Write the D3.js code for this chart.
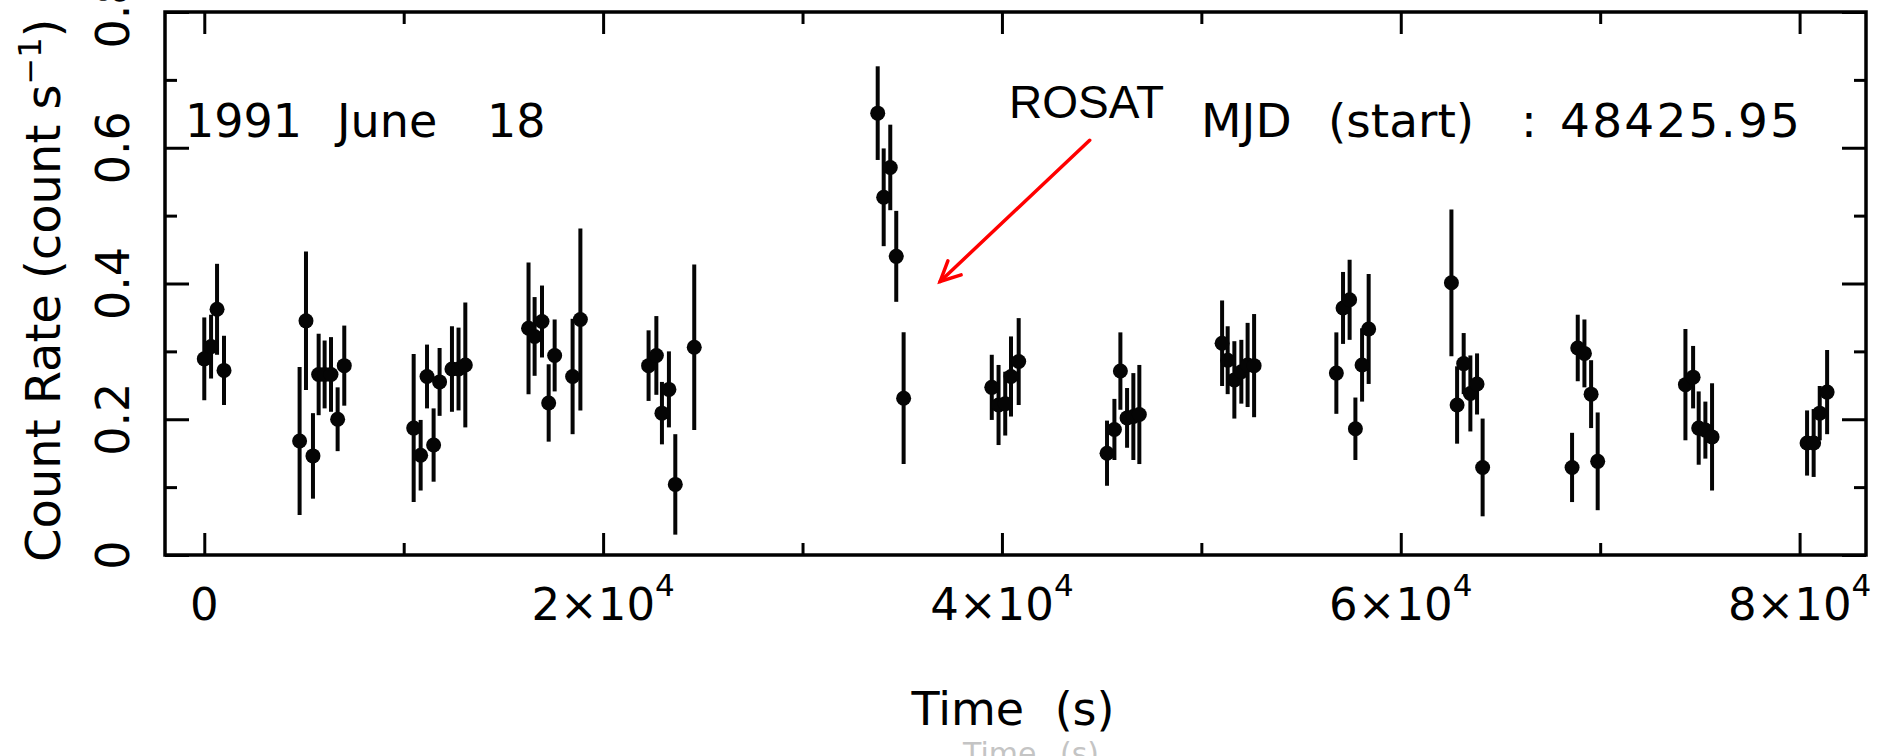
<!DOCTYPE html>
<html>
<head>
<meta charset="utf-8">
<script src="https://cdn.jsdelivr.net/npm/d3@7"></script>
<style>
  body { margin: 0; background: #fff; }
  svg { display: block; }
  .pg { font-family: "DejaVu Sans", sans-serif; fill: #000; }
</style>
</head>
<body>
<svg id="chart"></svg>
<script>
// light curve values (time in s, rate in count/s, 1-sigma error)
const times = [
  0, 340, 640, 990,
  4780, 5100, 5450, 5735, 6035, 6354, 6687, 7020,
  10500, 10850, 11170, 11500, 11800, 12420, 12750, 13090,
  16260, 16565, 16935, 17270, 17570, 18470, 18860,
  22280, 22670, 22950, 23300, 23620, 24570,
  33770, 34070, 34400, 34700, 35070,
  39490, 39830, 40165, 40455, 40840,
  45270, 45640, 45940, 46275, 46590, 46890,
  51040, 51320, 51655, 52005, 52320, 52645,
  56770, 57105, 57435, 57725, 58060, 58390,
  62540, 62825, 63155, 63490, 63825, 64105,
  68590, 68875, 69210, 69545, 69875,
  74275, 74660, 74940, 75275, 75610,
  80375, 80705, 81010, 81380
];
const rates = [
  0.289, 0.307, 0.362, 0.272,
  0.168, 0.345, 0.146, 0.266, 0.266, 0.266, 0.200, 0.279,
  0.187, 0.147, 0.263, 0.162, 0.255, 0.274, 0.274, 0.280,
  0.334, 0.322, 0.344, 0.224, 0.294, 0.263, 0.347,
  0.279, 0.294, 0.209, 0.244, 0.104, 0.306,
  0.651, 0.527, 0.571, 0.440, 0.231,
  0.247, 0.221, 0.223, 0.263, 0.285,
  0.150, 0.185, 0.271, 0.202, 0.204, 0.207,
  0.312, 0.287, 0.258, 0.270, 0.280, 0.279,
  0.268, 0.364, 0.376, 0.186, 0.280, 0.333,
  0.401, 0.221, 0.282, 0.238, 0.252, 0.129,
  0.129, 0.305, 0.297, 0.237, 0.138,
  0.251, 0.262, 0.187, 0.184, 0.174,
  0.165, 0.165, 0.209, 0.240
];
const errors = [
  0.061, 0.047, 0.067, 0.051,
  0.109, 0.102, 0.063, 0.060, 0.050, 0.055, 0.047, 0.059,
  0.109, 0.052, 0.047, 0.054, 0.050, 0.063, 0.061, 0.092,
  0.097, 0.058, 0.053, 0.057, 0.053, 0.085, 0.134,
  0.052, 0.058, 0.046, 0.056, 0.074, 0.122,
  0.069, 0.072, 0.063, 0.067, 0.097,
  0.048, 0.059, 0.047, 0.059, 0.064,
  0.048, 0.045, 0.057, 0.044, 0.064, 0.073,
  0.063, 0.050, 0.057, 0.047, 0.062, 0.076,
  0.060, 0.053, 0.059, 0.046, 0.054, 0.081,
  0.108, 0.057, 0.045, 0.056, 0.045, 0.072,
  0.051, 0.049, 0.050, 0.050, 0.072,
  0.082, 0.046, 0.054, 0.042, 0.079,
  0.048, 0.050, 0.040, 0.062
];

// axis ticks
const xMajor = [0, 20000, 40000, 60000, 80000];
const xMinor = [10000, 30000, 50000, 70000];
const xTickBase = ["0", "2×10", "4×10", "6×10", "8×10"];
const xTickExp = ["", "4", "4", "4", "4"];
const yMajor = [0, 0.2, 0.4, 0.6, 0.8];
const yMinor = [0.1, 0.3, 0.5, 0.7];
const yTickLabels = ["0", "0.2", "0.4", "0.6", "0.8"];

// annotation arrow, in data coordinates [time, rate]
const arrowFrom = [44400, 0.611];
const arrowTo = [36900, 0.403];

const containerWidth = 1887;
const containerHeight = 756;
const margin = { top: 12, right: 21, bottom: 201, left: 165 };
const width = containerWidth - margin.left - margin.right;
const height = containerHeight - margin.top - margin.bottom;

const svg = d3.select("#chart")
  .attr("width", containerWidth)
  .attr("height", containerHeight);

const chart = svg.append("g")
  .attr("transform", `translate(${margin.left},${margin.top})`);

const x = d3.scaleLinear().domain([-1970, 83330]).range([0, width]);
const y = d3.scaleLinear().domain([0, 0.8]).range([height, 0]);

// ticks point inward on all four sides, like pgplot
function styleTicks(g) {
  g.select(".domain").remove();
  g.selectAll(".tick line").attr("stroke", "#000").attr("stroke-width", 3);
}
const noLabel = () => "";

chart.append("g").attr("transform", `translate(0,${height})`)
  .call(d3.axisBottom(x).tickValues(xMajor).tickSize(-22).tickFormat(noLabel)).call(styleTicks);
chart.append("g").attr("transform", `translate(0,${height})`)
  .call(d3.axisBottom(x).tickValues(xMinor).tickSize(-12).tickFormat(noLabel)).call(styleTicks);
chart.append("g")
  .call(d3.axisTop(x).tickValues(xMajor).tickSize(-22).tickFormat(noLabel)).call(styleTicks);
chart.append("g")
  .call(d3.axisTop(x).tickValues(xMinor).tickSize(-12).tickFormat(noLabel)).call(styleTicks);
chart.append("g")
  .call(d3.axisLeft(y).tickValues(yMajor).tickSize(-24).tickFormat(noLabel)).call(styleTicks);
chart.append("g")
  .call(d3.axisLeft(y).tickValues(yMinor).tickSize(-12).tickFormat(noLabel)).call(styleTicks);
chart.append("g").attr("transform", `translate(${width},0)`)
  .call(d3.axisRight(y).tickValues(yMajor).tickSize(-24).tickFormat(noLabel)).call(styleTicks);
chart.append("g").attr("transform", `translate(${width},0)`)
  .call(d3.axisRight(y).tickValues(yMinor).tickSize(-12).tickFormat(noLabel)).call(styleTicks);

// frame
chart.append("rect")
  .attr("width", width)
  .attr("height", height)
  .attr("fill", "none")
  .attr("stroke", "#000")
  .attr("stroke-width", 3.5);

// x tick labels with superscript exponent
const xLabels = chart.append("g").attr("class", "pg")
  .selectAll("text")
  .data(xMajor)
  .join("text")
  .attr("x", d => x(d))
  .attr("y", height + 65)
  .attr("text-anchor", "middle")
  .attr("font-size", 45);
xLabels.append("tspan").text((d, i) => xTickBase[i]);
xLabels.filter((d, i) => xTickExp[i] !== "")
  .append("tspan")
  .attr("dy", -24)
  .attr("font-size", 31)
  .text((d, i) => xTickExp[xMajor.indexOf(d)]);

// y tick labels, rotated
chart.append("g").attr("class", "pg")
  .selectAll("text")
  .data(yMajor)
  .join("text")
  .attr("transform", d => `translate(-36,${y(d)}) rotate(-90)`)
  .attr("text-anchor", "middle")
  .attr("font-size", 46)
  .text((d, i) => yTickLabels[i]);

// axis titles
const yTitle = svg.append("text")
  .attr("class", "pg")
  .attr("transform", "translate(60,562) rotate(-90)")
  .attr("font-size", 48);
yTitle.append("tspan").text("Count Rate (count s");
yTitle.append("tspan").attr("dy", -19).attr("font-size", 32).text("−1");
yTitle.append("tspan").attr("dy", 19).text(")");

svg.append("text")
  .attr("class", "pg")
  .attr("x", 1013)
  .attr("y", 725)
  .attr("text-anchor", "middle")
  .attr("font-size", 46)
  .style("word-spacing", "16px")
  .text("Time (s)");

// faint ghost of the label left over from the scan
svg.append("text")
  .attr("class", "pg")
  .attr("x", 1031)
  .attr("y", 764)
  .attr("text-anchor", "middle")
  .attr("font-size", 30)
  .style("word-spacing", "14px")
  .style("fill", "#c4c4c4")
  .text("Time (s)");

// in-plot annotations
const dateText = svg.append("text").attr("class", "pg").attr("y", 137).attr("font-size", 46);
dateText.append("tspan").attr("x", 185).text("1991");
dateText.append("tspan").attr("x", 337).text("June");
dateText.append("tspan").attr("x", 487).text("18");

const mjdText = svg.append("text").attr("class", "pg").attr("y", 137).attr("font-size", 47);
mjdText.append("tspan").attr("x", 1201).text("MJD");
mjdText.append("tspan").attr("x", 1328).text("(start)");
mjdText.append("tspan").attr("x", 1521).text(":");
mjdText.append("tspan").attr("x", 1560).attr("textLength", 240).text("48425.95");

svg.append("text")
  .attr("x", 1009)
  .attr("y", 118)
  .attr("font-family", "'Liberation Sans', Arial, sans-serif")
  .attr("font-size", 46)
  .text("ROSAT");

// red arrow pointing at the post-flare drop
const ax0 = x(arrowFrom[0]), ay0 = y(arrowFrom[1]);
const ax1 = x(arrowTo[0]), ay1 = y(arrowTo[1]);
const back = Math.atan2(ay0 - ay1, ax0 - ax1);
const wing = 22, spread = 26 * Math.PI / 180;
const arrow = chart.append("g")
  .attr("stroke", "#ff0000")
  .attr("stroke-width", 3.5)
  .attr("fill", "none")
  .attr("stroke-linecap", "round");
arrow.append("line")
  .attr("x1", ax0).attr("y1", ay0)
  .attr("x2", ax1).attr("y2", ay1);
arrow.append("polyline")
  .attr("points", [
    [ax1 + wing * Math.cos(back - spread), ay1 + wing * Math.sin(back - spread)],
    [ax1, ay1],
    [ax1 + wing * Math.cos(back + spread), ay1 + wing * Math.sin(back + spread)]
  ].map(p => p.join(",")).join(" "));

// data: error bars then points
const points = times.map((t, i) => ({ t, rate: rates[i], err: errors[i] }));

chart.append("g")
  .selectAll("line")
  .data(points)
  .join("line")
  .attr("x1", d => x(d.t))
  .attr("x2", d => x(d.t))
  .attr("y1", d => y(d.rate - d.err))
  .attr("y2", d => y(d.rate + d.err))
  .attr("stroke", "#050505")
  .attr("stroke-width", 4);

chart.append("g")
  .selectAll("circle")
  .data(points)
  .join("circle")
  .attr("cx", d => x(d.t))
  .attr("cy", d => y(d.rate))
  .attr("r", 7.5)
  .attr("fill", "#050505");
</script>
</body>
</html>
